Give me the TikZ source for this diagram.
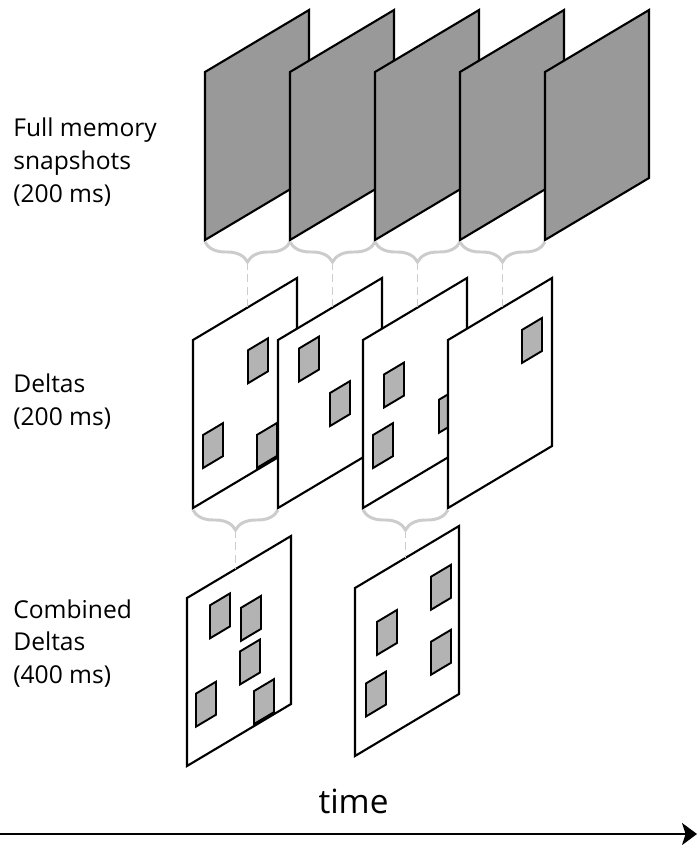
\documentclass[tikz,border=0pt]{standalone}
\usepackage{fontspec}
\setmainfont{Open Sans}
\usetikzlibrary{arrows.meta,calc,decorations.pathreplacing}
\definecolor{snapgray}{HTML}{999999}
\definecolor{cellgray}{HTML}{B3B3B3}
\definecolor{linkgray}{HTML}{CCCCCC}

\begin{document}
\begin{tikzpicture}[x=0.02cm,y=-0.02cm,
  panel/.style={draw=black,line width=1.2pt},
  snap/.style={panel,fill=snapgray},
  delta/.style={panel,fill=white},
  cell/.style={draw=black,line width=1.1pt,fill=cellgray},
  group/.style={draw=linkgray,line width=1.7pt,decorate,decoration={brace,amplitude=0.4cm}},
  link/.style={draw=linkgray,line width=0.7pt,dash pattern=on 4.5pt off 2.5pt},
  label/.style={anchor=base west,align=left,inner sep=0pt,font=\fontsize{14}{18.5}\selectfont}]
\useasboundingbox (0,0) rectangle (697,845);

% full snapshots
\foreach \x [count=\i] in {205,290,375,460,545}
{
\begin{scope}[shift={(\x,72)},yslant=0.596]
\draw[snap] (0,0) rectangle (104,168);
\coordinate (s\i) at (0,170);
\end{scope}
}

% deltas
\begin{scope}[shift={(193,340)},yslant=0.596]
\draw[delta] (0,0) rectangle (104,168);
\foreach \u/\v in {55/43,10/101,64/133} \draw[cell] (\u,\v) rectangle ++(20,33);
\coordinate (d1) at (0,170);
\coordinate (d1n) at (54.5,0);
\end{scope}
\begin{scope}[shift={(278,340)},yslant=0.596]
\draw[delta] (0,0) rectangle (104,168);
\foreach \u/\v in {21/21,52/84} \draw[cell] (\u,\v) rectangle ++(20,33);
\coordinate (d2) at (0,170);
\coordinate (d2n) at (54.5,0);
\end{scope}
\begin{scope}[shift={(363,340)},yslant=0.596]
\draw[delta] (0,0) rectangle (104,168);
\foreach \u/\v in {21/47,10/101,76/105} \draw[cell] (\u,\v) rectangle ++(20,33);
\coordinate (d3) at (0,170);
\coordinate (d3n) at (54.5,0);
\end{scope}
\begin{scope}[shift={(448,340)},yslant=0.596]
\draw[delta] (0,0) rectangle (104,168);
\foreach \u/\v in {74/34} \draw[cell] (\u,\v) rectangle ++(20,33);
\coordinate (d4) at (0,170);
\coordinate (d4n) at (54.5,0);
\end{scope}

% combined deltas
\begin{scope}[shift={(187,598)},yslant=0.596]
\draw[delta] (0,0) rectangle (104,168);
\foreach \u/\v in {23/21,54/42,53/85,9/101,67/133} \draw[cell] (\u,\v) rectangle ++(20,33);
\coordinate (c1n) at (48.5,0);
\end{scope}
\begin{scope}[shift={(355,588)},yslant=0.596]
\draw[delta] (0,0) rectangle (104,168);
\foreach \u/\v in {76/34,22/47,76/99,11/102} \draw[cell] (\u,\v) rectangle ++(20,33);
\coordinate (c2n) at (50.5,0);
\end{scope}

% braces
\foreach \i [count=\j from 2] in {1,...,4}
{
\draw[group] (s\j) -- (s\i);
\coordinate (g\i) at ($(s\i)!0.5!(s\j)+(0,20)$);
\draw[link] (g\i) -- (d\i n);
}
\draw[group] (d2) -- (d1);
\coordinate (h1) at ($(d1)!0.5!(d2)+(0,20)$);
\draw[link] (h1) -- (c1n);
\draw[group] (d4) -- (d3);
\coordinate (h2) at ($(d3)!0.5!(d4)+(0,20)$);
\draw[link] (h2) -- (c2n);

% labels (base = last line)
\node[label] (snaplbl) at (13,202) {Full memory\\snapshots\\(200 ms)};
\node[label] (deltalbl) at (13,425) {Deltas\\(200 ms)};
\node[label] (comblbl) at (13,683) {Combined\\Deltas\\(400 ms)};

% time axis
\coordinate (t0) at (0,834);
\coordinate (t1) at (697,834);
\draw[line width=1.1pt,-{Stealth[length=8.5pt,width=12.5pt,inset=2pt]}] (t0) -- (t1);
\node[font=\fontsize{19}{22}\selectfont,anchor=base] (time) at (353.5,813) {time};
\end{tikzpicture}
\end{document}
